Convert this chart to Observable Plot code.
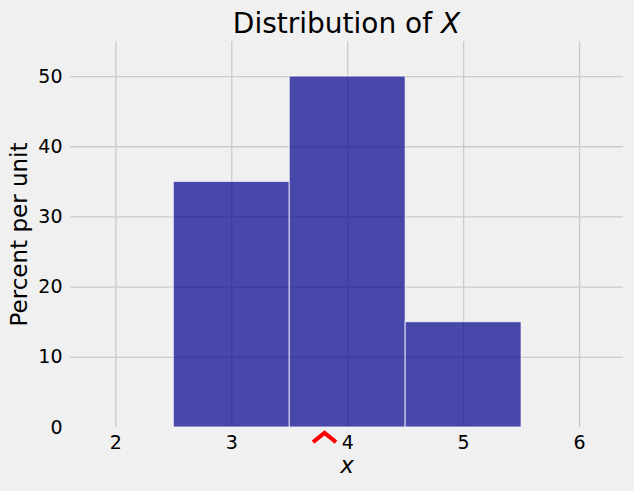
<!DOCTYPE html>
<html><head><meta charset="utf-8">
<script src="https://cdn.jsdelivr.net/npm/d3@7"></script>
<script src="https://cdn.jsdelivr.net/npm/@observablehq/plot@0.6"></script>
<style>html,body{margin:0;padding:0;background:#f0f0f0;}</style>
</head><body><div id="chart"></div>
<script>
const binStarts = [2.5, 3.5, 4.5];
const binEnds = [3.5, 4.5, 5.5];
const percentPerUnit = [35, 50, 15];
const markerX = [3.8];
const xTicks = [2, 3, 4, 5, 6];
const yTicks = [0, 10, 20, 30, 40, 50];
const titleText = "Distribution of ";
const titleVar = "X";
const xLabel = "x";
const yLabel = "Percent per unit";

const bars = binStarts.map((s, i) => ({x1: s, x2: binEnds[i], y: percentPerUnit[i]}));
const caret = {
  draw(ctx, size) {
    const s = Math.sqrt(size / Math.PI);
    ctx.moveTo(-s, s * 0.4);
    ctx.lineTo(0, -s * 0.4);
    ctx.lineTo(s, s * 0.4);
  }
};

const plot = Plot.plot({
  width: 634, height: 491,
  marginLeft: 70, marginRight: 11, marginTop: 41, marginBottom: 64,
  style: {background: "#f0f0f0", fontFamily: "DejaVu Sans", color: "#000"},
  x: {domain: [1.609, 6.379]},
  y: {domain: [0, 55]},
  marks: [
    Plot.gridX(xTicks, {stroke: "#cbcbcb", strokeOpacity: 1, strokeWidth: 1.3}),
    Plot.gridY(yTicks.filter(d => d > 0), {stroke: "#cbcbcb", strokeOpacity: 1, strokeWidth: 1.3}),
    Plot.rect(bars, {x1: "x1", x2: "x2", y1: 0, y2: "y", fill: "darkblue", fillOpacity: 0.7, stroke: "white", strokeOpacity: 0.75, strokeWidth: 1}),
    Plot.axisX(xTicks, {tickSize: 0, tickPadding: 8, fontSize: 19, label: null, tickFormat: d3.format("d")}),
    Plot.axisY(yTicks, {tickSize: 0, tickPadding: 8, fontSize: 19, label: null, tickFormat: d3.format("d")}),
    Plot.dot(markerX, {x: d => d, y: 0, dy: 10, r: 11.5, symbol: caret, stroke: "red", fill: "none", strokeWidth: 4, strokeLinejoin: "miter"}),
    Plot.text([xLabel], {frameAnchor: "bottom", text: d => d, dy: 45, fontSize: 23, fontStyle: "italic"}),
    Plot.text([yLabel], {frameAnchor: "left", text: d => d, rotate: -90, dx: -51, fontSize: 23, textAnchor: "middle"})
  ]
});

const svg = d3.select(plot);
const t = svg.append("text")
  .attr("x", 346.5).attr("y", 32.5)
  .attr("text-anchor", "middle")
  .attr("font-size", 28)
  .attr("font-family", "DejaVu Sans")
  .attr("fill", "#000");
t.append("tspan").text(titleText);
t.append("tspan").attr("font-style", "italic").text(titleVar);

document.getElementById("chart").appendChild(plot);
</script>
</body></html>
